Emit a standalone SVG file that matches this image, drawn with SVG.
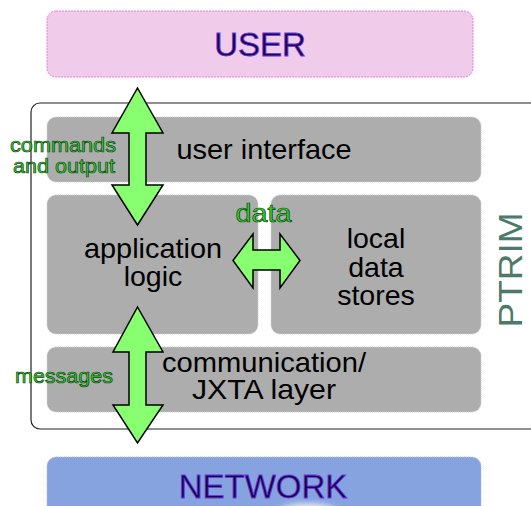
<svg xmlns="http://www.w3.org/2000/svg" width="531" height="506" viewBox="0 0 531 506">
  <style>
    .layer { fill: #adadad; stroke: #cfcfcf; stroke-width: 1; stroke-dasharray: 1 1; }
    .lbl { font-family: "Liberation Sans", Arial, sans-serif; fill: #000; text-anchor: middle; font-size: 28.5px; }
    .big { font-family: "Liberation Sans", Arial, sans-serif; fill: #1a0048; stroke: #6a3ce0; stroke-width: 0.8; text-anchor: middle; font-size: 33px; }
    .flow { font-family: "Liberation Sans", Arial, sans-serif; fill: #33cc33; stroke: #0d4a0d; stroke-width: 0.7; text-anchor: middle; }
    .arrow { fill: #88ff70; stroke: #000; stroke-width: 1.5; stroke-linejoin: miter; }
  </style>
  <defs>
    <filter id="soft" x="-50%" y="-50%" width="200%" height="200%">
      <feGaussianBlur stdDeviation="3"/>
    </filter>
  </defs>
  <rect width="531" height="506" fill="#fff"/>

  <!-- user -->
  <g id="user">
    <rect x="47" y="11" width="426" height="66" rx="9" fill="#f0cbea" stroke="#e87ae0" stroke-width="1" stroke-dasharray="2 1"/>
    <text class="big" x="260" y="56">USER</text>
  </g>

  <!-- ptrim frame -->
  <g id="ptrim">
    <rect x="31" y="103" width="520" height="326" rx="9" fill="#fff" stroke="#222" stroke-width="1.2"/>
    <text x="522" y="270" transform="rotate(-90 522 270)" font-family="Liberation Sans, Arial, sans-serif" font-size="33" fill="#4b7a68" text-anchor="middle" textLength="115" lengthAdjust="spacingAndGlyphs">PTRIM</text>
  </g>

  <g id="user-interface">
    <rect class="layer" x="47" y="117" width="434" height="65" rx="9"/>
    <text class="lbl" x="264" y="159" textLength="175" lengthAdjust="spacingAndGlyphs">user interface</text>
  </g>

  <g id="application-logic">
    <rect class="layer" x="47" y="195" width="211" height="139" rx="9"/>
    <text class="lbl" x="153" y="258" textLength="138" lengthAdjust="spacingAndGlyphs">application</text>
    <text class="lbl" x="153" y="286">logic</text>
  </g>

  <g id="local-data-stores">
    <rect class="layer" x="271" y="195" width="210" height="139" rx="9"/>
    <text class="lbl" x="376" y="248">local</text>
    <text class="lbl" x="376" y="277">data</text>
    <text class="lbl" x="376" y="305">stores</text>
  </g>

  <g id="communication">
    <rect class="layer" x="47" y="347" width="434" height="65" rx="9"/>
    <text class="lbl" x="264" y="372" font-size="27.5" textLength="204" lengthAdjust="spacingAndGlyphs">communication/</text>
    <text class="lbl" x="264" y="399" font-size="27.5" textLength="144" lengthAdjust="spacingAndGlyphs">JXTA layer</text>
  </g>

  <g id="network">
    <rect x="47" y="457" width="434" height="60" rx="9" fill="#86a3e0" stroke="#a8bcef" stroke-width="1" stroke-dasharray="1 1"/>
    <ellipse cx="308" cy="512" rx="28" ry="8" fill="#fff" opacity="0.9" filter="url(#soft)"/>
    <text class="big" x="263" y="498">NETWORK</text>
  </g>

  <!-- connectors -->
  <g id="connectors">
    <polygon class="arrow" points="137.5,88 163,133 146,133 146,185 163,185 137.5,225 112,185 129,185 129,133 112,133"/>
    <polygon class="arrow" points="137.5,307 163,352 146,352 146,405 163,405 137.5,443 113,405 129,405 129,352 113,352"/>
    <polygon class="arrow" points="233,260.5 253,234 253,250 280,250 280,234 300,260.5 280,288 280,270 253,270 253,288"/>
    <text class="flow" x="63" y="152" font-size="21" textLength="106" lengthAdjust="spacingAndGlyphs">commands</text>
    <text class="flow" x="64" y="173" font-size="21" textLength="102" lengthAdjust="spacingAndGlyphs">and output</text>
    <text class="flow" x="263.5" y="222" font-size="25" textLength="56" lengthAdjust="spacingAndGlyphs">data</text>
    <text class="flow" x="64" y="383" font-size="21" textLength="98" lengthAdjust="spacingAndGlyphs">messages</text>
  </g>
</svg>
